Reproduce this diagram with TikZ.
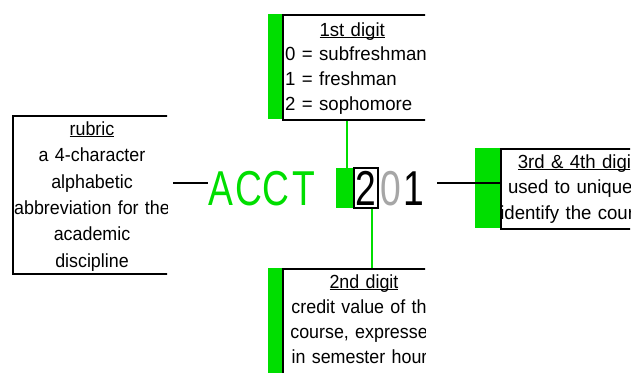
\documentclass[tikz,border=0pt]{standalone}
\usepackage{fontspec}
\setmainfont{Liberation Sans}
\newfontfamily\labelfont{Liberation Sans}[FakeStretch=0.94]
\newfontfamily\widelabelfont{Liberation Sans}[FakeStretch=0.98]
\newfontfamily\codefont{Liberation Sans}[FakeStretch=0.76]
\definecolor{digitgreen}{RGB}{0,222,0}
\newcommand{\digitheading}[1]{\setbox0\hbox{#1}\rlap{\rule[-2.2pt]{\wd0}{1.1pt}}\box0}

\tikzset{
  digitframe/.style={draw,line width=1.5pt,anchor=north west,inner sep=0pt,minimum width=300pt},
  notetext/.style={inner sep=0pt,anchor=north,font={\labelfont\fontsize{19}{25}\selectfont}},
  codechar/.style={inner sep=0pt,anchor=base,font={\codefont\fontsize{49}{49}\selectfont}},
  link/.style={line width=1.3pt}
}

\begin{document}
\begin{tikzpicture}[x=1pt,y=-1pt]
  \useasboundingbox (0,0) rectangle (636,372);
  % course number
  \foreach \ch [count=\i] in {A,C,C,T}
    \node[codechar,text=digitgreen] (acct\i) at (193.5+27.5*\i,205) {\ch};
  \node[fill=digitgreen,minimum width=18pt,minimum height=40pt,inner sep=0pt] (lead) at (345,188) {};
  \node[codechar,anchor=center,draw,line width=1.2pt,fill=white,minimum width=24pt,minimum height=40pt] (two) at (366,188) {2};
  \node[codechar,text=black!35] (zero) at (391,205) {0};
  \node[codechar] (one) at (414,205) {1};

  % 1st digit
  \begin{scope}
    \clip (260,0) rectangle (425,125);
    \fill[digitgreen] (268,14) rectangle (282,119);
    \node[digitframe,minimum height=105pt] (firstbox) at (282,14) {};
    \node[notetext,anchor=north west,align=left,text width=200pt,
      font={\widelabelfont\fontsize{19}{24.7}\selectfont}] (firsttext) at (285,22.3)
      {\makebox[134pt]{\digitheading{1st digit}}\\0 = subfreshman\\1 = freshman\\2 = sophomore};
  \end{scope}

  % rubric
  \begin{scope}
    \clip (0,100) rectangle (167,290);
    \node[digitframe,minimum height=158pt] (rubricbox) at (12,115) {};
    \node[notetext,align=center,text width=170pt,
      font={\labelfont\fontsize{19}{26.4}\selectfont}] (rubrictext) at (92,121.3)
      {\digitheading{rubric}\\a 4-character\\alphabetic\\abbreviation for the\\academic\\discipline};
  \end{scope}

  % 3rd & 4th digit
  \begin{scope}
    \clip (460,140) rectangle (630,240);
    \fill[digitgreen] (475,148) rectangle (500,228);
    \node[digitframe,minimum height=80pt] (thirdbox) at (500,148) {};
    \node[notetext,align=center,text width=170pt,
      font={\widelabelfont\fontsize{19}{25.5}\selectfont}] (thirdtext) at (577,154.3)
      {\digitheading{3rd \& 4th digit}\\used to uniquely\\identify the course};
  \end{scope}

  % 2nd digit
  \begin{scope}
    \clip (260,260) rectangle (425,372);
    \fill[digitgreen] (268,268) rectangle (282,380);
    \node[digitframe,minimum height=150pt] (secondbox) at (282,268) {};
    \node[notetext,align=center,text width=170pt] (secondtext) at (364,274.3)
      {\digitheading{2nd digit}\\credit value of the\\course, expressed\\in semester hours};
  \end{scope}

  % leaders
  \coordinate (rubricstub) at (173,183);
  \coordinate (digitstub) at (437,183);
  \draw[link] (rubricstub) -- (rubricstub -| acct1.west);
  \draw[link,digitgreen] ([xshift=2pt]lead.north) -- ([xshift=2pt]lead.north |- firstbox.south);
  \draw[link,digitgreen] ([xshift=6pt]two.south) -- ([xshift=6pt]two.south |- secondbox.north);
  \draw[link] (digitstub) -- (digitstub -| thirdbox.west);
\end{tikzpicture}
\end{document}
